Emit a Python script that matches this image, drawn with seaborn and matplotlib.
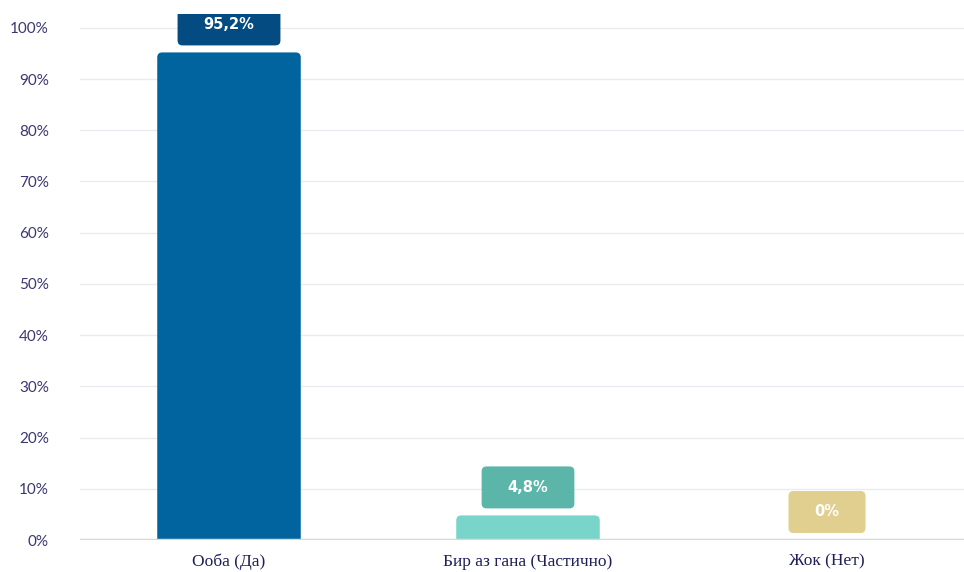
import numpy as np
import pandas as pd
import matplotlib
matplotlib.use('Agg')
import matplotlib.pyplot as plt
import seaborn as sns
from matplotlib.patches import FancyBboxPatch, PathPatch
from matplotlib.path import Path
from matplotlib.transforms import IdentityTransform

categories = ['Ооба (Да)', 'Бир аз гана (Частично)', 'Жок (Нет)']
values = [95.2, 4.8, 0.0]
labels = ['95,2%', '4,8%', '0%']
bar_colors = ['#02649E', '#79D5CA', '#EEDFA6']
box_colors = ['#034B80', '#5BB5A9', '#E0CF8F']
yticks = list(range(0, 101, 10))

df = pd.DataFrame({'cat': categories, 'val': values})

sns.set_style('white')
fig = plt.figure(figsize=(9.64, 5.72), dpi=100)
W, H = 964, 572
ax_w, ax_h = 897, 526
ax = fig.add_axes([79.5 / W, 32 / H, ax_w / W, ax_h / H])

sns.barplot(data=df, x='cat', y='val', hue='cat', palette=bar_colors, saturation=1,
            width=0.48, legend=False, ax=ax, zorder=3)

ax.set_xlim(-0.5, 2.5)
ax.set_ylim(0, 102.7)


def rounded_top(x, y, w, h, rx, ry):
    verts = [(x, y), (x + w, y), (x + w, y + h - ry), (x + w, y + h), (x + w - rx, y + h),
             (x + rx, y + h), (x, y + h), (x, y + h - ry), (x, y)]
    codes = [Path.MOVETO, Path.LINETO, Path.LINETO, Path.CURVE3, Path.CURVE3,
             Path.LINETO, Path.CURVE3, Path.CURVE3, Path.CLOSEPOLY]
    return Path(verts, codes)


# rounded top corners on bars (radius ~5 px)
rx = 5 / (ax_w / 3)
ry = 5 / (ax_h / 102.7)
for p in list(ax.patches):
    x, y = p.get_x(), p.get_y()
    w, h = p.get_width(), p.get_height()
    fc = p.get_facecolor()
    p.remove()
    if h <= 0:
        continue
    ax.add_patch(PathPatch(rounded_top(x, y, w, h, rx, min(ry, h)), fc=fc, ec='none',
                           lw=0, zorder=3))

ax.set_yticks(yticks)
ax.set_yticklabels([f'{t}%' for t in yticks])
ax.grid(axis='y', color='#EBEBEF', linewidth=1, zorder=0)
ax.axhline(0, color='#D3D8E6', linewidth=2.5, zorder=4)
for s in ax.spines.values():
    s.set_visible(False)
ax.tick_params(axis='y', length=0, pad=22, labelsize=11, labelcolor='#3A3772')
ax.tick_params(axis='x', length=0, pad=10, labelsize=12.5, labelcolor='#1E1E5A')
for t in ax.get_xticklabels():
    t.set_family('Liberation Serif')
for t in ax.get_yticklabels():
    t.set_family('Lato')
ax.set_xlabel('')
ax.set_ylabel('')

# value labels in rounded boxes
fig.canvas.draw()
renderer = fig.canvas.get_renderer()
for i, (v, lab) in enumerate(zip(values, labels)):
    bx, by = ax.transData.transform((i, v))
    box_h = 42
    cy = by + 7 + box_h / 2
    txt = ax.text(bx, cy, lab, transform=IdentityTransform(), ha='center', va='center',
                  color='white', fontsize=10.5, fontweight='bold', zorder=6,
                  family='DejaVu Sans')
    bb = txt.get_window_extent(renderer)
    box_w = bb.width + 52
    patch = FancyBboxPatch((bx - box_w / 2, by + 7), box_w, box_h,
                           boxstyle='round,pad=0,rounding_size=5',
                           transform=IdentityTransform(), fc=box_colors[i], ec='none', zorder=5)
    ax.add_patch(patch)
    patch.set_clip_path(ax.patch)
    txt.set_clip_path(ax.patch)

fig.savefig('out.png', dpi=100)
